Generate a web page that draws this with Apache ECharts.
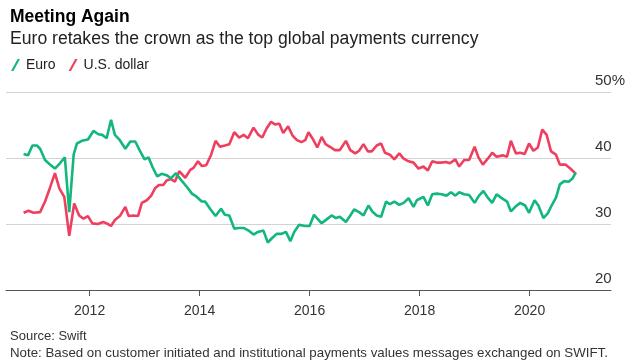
<!DOCTYPE html>
<html>
<head>
<meta charset="utf-8">
<script src="https://cdn.jsdelivr.net/npm/echarts@6/dist/echarts.min.js"></script>
<style>
  html, body { margin: 0; padding: 0; background: #fff; }
  #chart { width: 632px; height: 364px; }
</style>
</head>
<body>
<div id="chart"></div>
<script>
// Decimal-year positions and values (% share of global payments)
var euroYears = [2010.80, 2010.88, 2010.96, 2011.04, 2011.10, 2011.19, 2011.28, 2011.37, 2011.46, 2011.55,
  2011.63, 2011.71, 2011.77, 2011.86, 2011.97, 2012.07, 2012.16, 2012.23, 2012.31, 2012.39,
  2012.46, 2012.55, 2012.65, 2012.74, 2012.83, 2012.92, 2013.00, 2013.07, 2013.14, 2013.23,
  2013.31, 2013.40, 2013.48, 2013.57, 2013.65, 2013.77, 2013.86, 2013.95, 2014.04, 2014.10,
  2014.19, 2014.29, 2014.39, 2014.46, 2014.54, 2014.63, 2014.71, 2014.80, 2014.89, 2014.98,
  2015.06, 2015.16, 2015.24, 2015.31, 2015.40, 2015.49, 2015.57, 2015.65, 2015.72, 2015.81,
  2015.91, 2016.00, 2016.08, 2016.22, 2016.31, 2016.40, 2016.48, 2016.55, 2016.66, 2016.74,
  2016.81, 2016.90, 2016.98, 2017.07, 2017.14, 2017.22, 2017.30, 2017.39, 2017.46, 2017.54,
  2017.63, 2017.71, 2017.80, 2017.89, 2017.95, 2018.07, 2018.15, 2018.23, 2018.31, 2018.40,
  2018.49, 2018.57, 2018.65, 2018.72, 2018.81, 2018.90, 2019.00, 2019.08, 2019.16, 2019.24,
  2019.32, 2019.40, 2019.48, 2019.59, 2019.66, 2019.74, 2019.83, 2019.92, 2019.99, 2020.09,
  2020.16, 2020.25, 2020.33, 2020.40, 2020.48, 2020.55, 2020.63, 2020.71, 2020.78, 2020.84];
var euroValues = [40.6, 40.4, 41.9, 41.9, 41.4, 39.7, 39.0, 38.4, 39.2, 40.1,
  31.8, 40.5, 42.2, 42.6, 42.8, 44.1, 43.6, 43.5, 43.0, 45.8,
  43.5, 42.7, 41.4, 42.5, 42.5, 41.0, 39.8, 40.1, 38.7, 37.2,
  37.6, 37.4, 36.9, 37.7, 36.8, 35.6, 34.6, 34.1, 33.4, 33.4,
  32.3, 31.2, 32.3, 31.4, 31.3, 29.3, 29.4, 29.4, 29.0, 28.4,
  28.8, 29.0, 27.2, 27.8, 28.5, 28.5, 28.8, 27.4, 28.8, 29.9,
  29.7, 29.7, 31.4, 30.1, 30.7, 31.3, 30.9, 31.1, 30.3, 31.3,
  32.2, 31.8, 31.3, 32.8, 31.9, 31.3, 31.1, 33.4, 33.0, 33.4,
  32.9, 33.2, 33.9, 32.6, 33.6, 34.1, 32.8, 34.5, 34.6, 34.5,
  34.3, 34.8, 34.3, 34.8, 34.5, 34.4, 33.2, 34.3, 35.0, 34.0,
  33.2, 34.5, 34.0, 33.4, 31.9, 32.6, 33.2, 32.8, 31.7, 33.6,
  32.8, 30.9, 31.6, 32.8, 34.0, 36.0, 36.5, 36.4, 36.9, 37.8];

var usdYears = [2010.80, 2010.89, 2010.98, 2011.10, 2011.19, 2011.28, 2011.37, 2011.45, 2011.54, 2011.63,
  2011.72, 2011.81, 2011.89, 2011.97, 2012.05, 2012.15, 2012.25, 2012.31, 2012.39, 2012.46,
  2012.55, 2012.65, 2012.71, 2012.80, 2012.88, 2012.95, 2013.04, 2013.12, 2013.19, 2013.26,
  2013.34, 2013.40, 2013.48, 2013.55, 2013.63, 2013.74, 2013.83, 2013.89, 2013.97, 2014.04,
  2014.12, 2014.21, 2014.29, 2014.37, 2014.46, 2014.54, 2014.63, 2014.72, 2014.80, 2014.88,
  2014.98, 2015.07, 2015.14, 2015.22, 2015.30, 2015.37, 2015.45, 2015.52, 2015.61, 2015.69,
  2015.77, 2015.85, 2015.92, 2015.98, 2016.05, 2016.14, 2016.22, 2016.29, 2016.37, 2016.46,
  2016.55, 2016.66, 2016.74, 2016.83, 2016.90, 2016.98, 2017.06, 2017.13, 2017.22, 2017.30,
  2017.37, 2017.46, 2017.54, 2017.63, 2017.71, 2017.80, 2017.89, 2017.98, 2018.07, 2018.15,
  2018.23, 2018.31, 2018.39, 2018.48, 2018.55, 2018.65, 2018.72, 2018.81, 2018.90, 2019.00,
  2019.07, 2019.15, 2019.24, 2019.32, 2019.40, 2019.51, 2019.59, 2019.66, 2019.75, 2019.83,
  2019.91, 2019.99, 2020.07, 2020.15, 2020.23, 2020.31, 2020.39, 2020.48, 2020.55, 2020.65,
  2020.74, 2020.84];
var usdValues = [31.7, 32.0, 31.7, 31.8, 33.4, 35.5, 37.7, 35.4, 34.1, 28.2,
  33.1, 31.3, 30.8, 31.2, 30.1, 30.0, 30.3, 30.1, 29.7, 30.6,
  31.2, 32.6, 31.2, 31.3, 31.2, 33.2, 33.6, 34.3, 35.4, 35.9,
  35.9, 36.6, 36.8, 36.4, 38.0, 37.0, 38.2, 38.5, 39.5, 38.8,
  38.9, 40.5, 42.6, 41.7, 41.9, 42.1, 43.9, 43.1, 43.5, 43.0,
  44.6, 43.5, 43.1, 44.5, 45.5, 45.1, 45.2, 43.8, 44.8, 43.4,
  42.7, 42.4, 42.7, 43.9, 43.0, 41.6, 43.2, 42.1, 41.7, 41.2,
  41.2, 42.6, 41.2, 40.7, 41.1, 42.1, 41.0, 41.0, 41.9, 42.2,
  40.8, 40.5, 39.8, 40.7, 39.9, 39.5, 39.3, 38.4, 38.7, 38.1,
  39.5, 39.3, 39.3, 39.4, 39.2, 39.8, 38.7, 39.7, 39.7, 41.7,
  40.1, 39.0, 39.9, 40.8, 40.2, 40.4, 40.2, 42.6, 40.7, 40.8,
  40.6, 42.2, 41.1, 41.6, 44.3, 43.5, 41.0, 40.5, 39.0, 39.0,
  38.4, 37.6];

var xTickYears = [2012, 2014, 2016, 2018, 2020];
var yTicks = [20, 30, 40, 50];
var seriesNames = ['Euro', 'U.S. dollar'];
var titleText = 'Meeting Again';
var subtitleText = 'Euro retakes the crown as the top global payments currency';
var sourceText = 'Source: Swift';
var noteText = 'Note: Based on customer initiated and institutional payments values messages exchanged on SWIFT.';

function pairs(xs, ys) { return xs.map(function (x, i) { return [x, ys[i]]; }); }

var FONT = '"Liberation Sans", Arial, sans-serif';
var GREEN = '#12b77c';
var RED = '#ef3f5f';

var chart = echarts.init(document.getElementById('chart'), null, { renderer: 'canvas' });
chart.setOption({
  animation: false,
  backgroundColor: '#ffffff',
  textStyle: { fontFamily: FONT },
  title: [
    { text: titleText, left: 5, top: 3, textStyle: { fontFamily: FONT, fontSize: 17.5, fontWeight: 'bold', color: '#000' } },
    { text: subtitleText, left: 5, top: 25, textStyle: { fontFamily: FONT, fontSize: 17.6, fontWeight: 'normal', color: '#222' } },
    { text: sourceText, left: 5, top: 325, textStyle: { fontFamily: FONT, fontSize: 13, fontWeight: 'normal', color: '#333' } },
    { text: noteText, left: 5, top: 342, textStyle: { fontFamily: FONT, fontSize: 13.3, fontWeight: 'normal', color: '#333' } }
  ],
  legend: {
    left: 6, top: 53,
    itemWidth: 9, itemHeight: 12, itemGap: 13,
    icon: 'path://M0,12 L2.4,12 L9,0 L6.6,0 Z',
    textStyle: { fontFamily: FONT, fontSize: 14, color: '#222', padding: [0, 0, 0, 1] },
    data: seriesNames
  },
  grid: { left: 6, right: 21, top: 92, bottom: 74, containLabel: false },
  xAxis: {
    type: 'value',
    min: 2010.48, max: 2021.48,
    axisLine: { show: true, lineStyle: { color: '#555', width: 1 } },
    axisTick: { show: true, length: 6, lineStyle: { color: '#555' }, customValues: xTickYears },
    axisLabel: { color: '#333', fontSize: 14, fontFamily: FONT, margin: 14, customValues: xTickYears,
      formatter: function (v) { return String(Math.round(v)); } },
    splitLine: { show: false }
  },
  yAxis: {
    type: 'value',
    position: 'right',
    min: 20, max: 50, interval: 10,
    axisLine: { show: false },
    axisTick: { show: false },
    splitLine: { show: true, lineStyle: { color: '#d3d3d3', width: 1 } },
    axisLabel: {
      inside: true, margin: 16, align: 'left', verticalAlign: 'bottom',
      padding: [0, 0, 4, 0],
      color: '#333', fontSize: 15, fontFamily: FONT,
      formatter: function (v) { return v === 50 ? '50%' : String(v); }
    }
  },
  series: [
    { name: seriesNames[0], type: 'line', data: pairs(euroYears, euroValues), showSymbol: false, symbol: 'none',
      color: GREEN, lineStyle: { color: GREEN, width: 2.6 }, z: 3 },
    { name: seriesNames[1], type: 'line', data: pairs(usdYears, usdValues), showSymbol: false, symbol: 'none',
      color: RED, lineStyle: { color: RED, width: 2.6 }, z: 2 }
  ]
});
</script>
</body>
</html>
